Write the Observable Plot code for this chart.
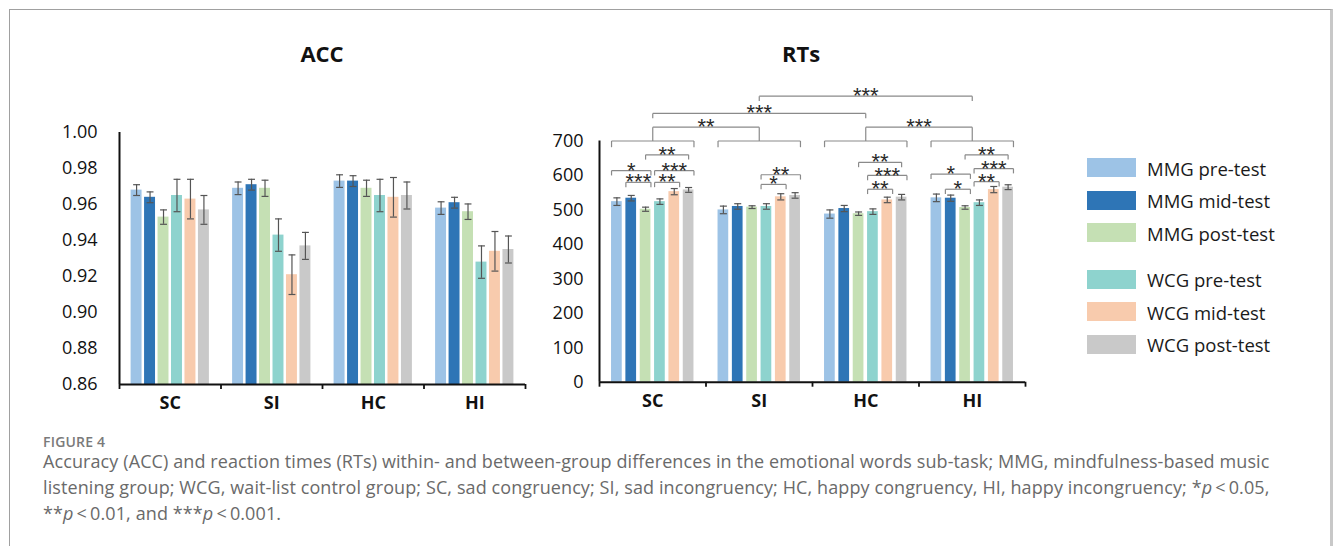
<!DOCTYPE html>
<html>
<head>
<meta charset="utf-8">
<script src="https://cdn.jsdelivr.net/npm/d3@7"></script>
<script src="https://cdn.jsdelivr.net/npm/@observablehq/plot@0.6"></script>
<style>
  body { margin: 0; background: #fff; font-family: "Open Sans", sans-serif; }
  #wrap { position: relative; width: 1335px; height: 546px; overflow: hidden; background: #fff; }
  #frame { position: absolute; left: 9px; top: 9px; width: 1320px; height: 620px;
           border-left: 1px solid #a0a0a0; border-top: 1px solid #a0a0a0; border-right: 3px solid #c8c8c8; }
  .ptitle { position: absolute; font-weight: 700; font-size: 22px; color: #111; transform: translate(-50%, -50%); white-space: nowrap; }
  .chart { position: absolute; }
  .chart svg { overflow: visible; }
  .sw { position: absolute; width: 49px; height: 19px; }
  .lt { position: absolute; font-size: 18.5px; color: #1a1a1a; white-space: nowrap; transform: translateY(-50%); }
  #fig { position: absolute; left: 43px; top: 432px; font-size: 14px; font-weight: 600; color: #7a7a7a; letter-spacing: 0.2px; }
  #cap { position: absolute; left: 43px; top: 448px; font-size: 18px; letter-spacing: 0.1px; line-height: 26px; color: #6a6a6a; white-space: nowrap; }
</style>
</head>
<body>
<div id="wrap">
  <div id="frame"></div>
  <div class="ptitle" style="left:322px; top:53px;">ACC</div>
  <div class="ptitle" style="left:801px; top:53px;">RTs</div>
  <div class="chart" id="acc" style="left:40px; top:30px;"></div>
  <div class="chart" id="rt" style="left:540px; top:30px;"></div>
  <div id="legend"></div>
  <div id="fig">FIGURE 4</div>
  <div id="cap">Accuracy (ACC) and reaction times (RTs) within- and between-group differences in the emotional words sub-task; MMG, mindfulness-based music<br>listening group; WCG, wait-list control group; SC, sad congruency; SI, sad incongruency; HC, happy congruency, HI, happy incongruency; *<i>p</i>&thinsp;&lt;&thinsp;0.05,<br>**<i>p</i>&thinsp;&lt;&thinsp;0.01, and ***<i>p</i>&thinsp;&lt;&thinsp;0.001.</div>
</div>
<script>
// ---------- data ----------
const categories = ["SC", "SI", "HC", "HI"];
const seriesNames = ["MMG pre-test", "MMG mid-test", "MMG post-test", "WCG pre-test", "WCG mid-test", "WCG post-test"];
const seriesColors = ["#9DC3E6", "#2E75B6", "#C5E0B4", "#8ED3CE", "#F8CBAD", "#C9C9C9"];

// ACC means and standard errors (per category, 6 series each)
const accSC = [0.968, 0.964, 0.953, 0.965, 0.963, 0.957];
const accSI = [0.969, 0.971, 0.969, 0.943, 0.921, 0.937];
const accHC = [0.973, 0.973, 0.969, 0.965, 0.964, 0.965];
const accHI = [0.958, 0.961, 0.956, 0.928, 0.934, 0.935];
const accErrSC = [0.003, 0.003, 0.004, 0.009, 0.011, 0.008];
const accErrSI = [0.0035, 0.003, 0.0045, 0.009, 0.011, 0.0075];
const accErrHC = [0.0035, 0.003, 0.0045, 0.009, 0.011, 0.0075];
const accErrHI = [0.0035, 0.003, 0.0043, 0.009, 0.011, 0.0075];

// RT means and standard errors
const rtSC = [524, 534, 502, 524, 553, 558];
const rtSI = [500, 510, 508, 510, 538, 542];
const rtHC = [488, 504, 489, 495, 529, 537];
const rtHI = [535, 534, 507, 521, 559, 566];
const rtErrSC = [11, 8, 6, 8, 9, 7];
const rtErrSI = [11, 8, 4, 8, 9, 8];
const rtErrHC = [12, 9, 5, 8, 8, 8];
const rtErrHI = [11, 9, 5, 8, 9, 7];

// tick values
const accTicks = [0.86, 0.88, 0.90, 0.92, 0.94, 0.96, 0.98, 1.00];
const rtTicks = [0, 100, 200, 300, 400, 500, 600, 700];

// significance comparisons (RTs): within a category between bars, level = stacking row
const withinComparisons = [
  { cat: 0, from: 1, to: 2, level: 1, label: "***" },
  { cat: 0, from: 3, to: 4, level: 1, label: "**" },
  { cat: 0, from: 0, to: 2, level: 2.7, label: "*" },
  { cat: 0, from: 3, to: 5, level: 2.7, label: "***" },
  { cat: 0, from: 2, to: 5, level: 5, label: "**", centers: true },
  { cat: 1, from: 3, to: 4, level: 0.7, label: "*" },
  { cat: 1, from: 3, to: 5, level: 2.1, label: "**" },
  { cat: 2, from: 3, to: 4, level: 0, label: "**" },
  { cat: 2, from: 3, to: 5, level: 2, label: "***" },
  { cat: 2, from: 2, to: 5, level: 3.9, label: "**", centers: true },
  { cat: 3, from: 1, to: 2, level: 0, label: "*" },
  { cat: 3, from: 3, to: 4, level: 1.1, label: "**" },
  { cat: 3, from: 0, to: 2, level: 2.2, label: "*" },
  { cat: 3, from: 3, to: 5, level: 3, label: "***" },
  { cat: 3, from: 2, to: 5, level: 5, label: "**", centers: true }
];
// between categories
const betweenComparisons = [
  { from: 0, to: 1, level: 9, label: "**", toGroup: true },
  { from: 2, to: 3, level: 9, label: "***", toGroup: true },
  { from: 0, to: 2, level: 11, label: "***" },
  { from: 1, to: 3, level: 13.5, label: "***" }
];
const groupLevel = 7;

// ---------- helpers ----------
function buildRows(means, errs, step) {
  const out = [];
  means.forEach((arr, c) => arr.forEach((v, s) => {
    out.push({ c, s, name: seriesNames[s], v, e: errs[c][s], x: c + (s - 2.5) * step });
  }));
  return out;
}

function barChart({ rows, yDomain, ticks, tickFormat, barW, capW, width, height, margins, tickPad, extra = [] }) {
  const y0 = yDomain[0];
  return Plot.plot({
    width, height,
    marginLeft: margins[0], marginRight: margins[1], marginTop: margins[2], marginBottom: margins[3],
    x: { type: "linear", domain: [-0.5, 3.5] },
    y: { domain: yDomain },
    color: { domain: seriesNames, range: seriesColors },
    style: { fontFamily: "'Open Sans', sans-serif", background: "transparent", overflow: "visible" },
    marks: [
      Plot.rectY(rows, { x1: d => d.x - barW / 2, x2: d => d.x + barW / 2, y1: y0, y2: "v", fill: "name" }),
      Plot.ruleX(rows, { x: "x", y1: d => d.v - d.e, y2: d => d.v + d.e, stroke: "#555", strokeWidth: 1.2 }),
      Plot.link(rows, { x1: d => d.x - capW, x2: d => d.x + capW, y1: d => d.v + d.e, y2: d => d.v + d.e, stroke: "#555", strokeWidth: 1.2 }),
      Plot.link(rows, { x1: d => d.x - capW, x2: d => d.x + capW, y1: d => d.v - d.e, y2: d => d.v - d.e, stroke: "#555", strokeWidth: 1.2 }),
      ...extra,
      Plot.axisY({ ticks, tickFormat, tickSize: 0, tickPadding: tickPad, fontSize: 18, fill: "#111", label: null }),
      Plot.axisX({ ticks: [0, 1, 2, 3], tickFormat: i => categories[i], tickSize: 0, tickPadding: 12, fontSize: 18, fontWeight: "bold", fill: "#111", label: null }),
      Plot.axisX({ ticks: [-0.5, 0.5, 1.5, 2.5, 3.5], tickFormat: () => "", tickSize: 5, stroke: "#111", strokeWidth: 1.8, label: null }),
      Plot.ruleY([y0], { stroke: "#111", strokeWidth: 2 }),
      Plot.ruleX([-0.5], { stroke: "#111", strokeWidth: 2 })
    ]
  });
}

// ---------- ACC ----------
const accStep = 0.1327, accBarW = 0.108;
const accRows = buildRows([accSC, accSI, accHC, accHI], [accErrSC, accErrSI, accErrHC, accErrHI], accStep);
document.getElementById("acc").append(barChart({
  rows: accRows, yDomain: [0.86, 1.00], ticks: accTicks, tickFormat: d3.format(".2f"),
  barW: accBarW, capW: 0.034, width: 500, height: 390, margins: [79, 15, 102, 36], tickPad: 22
}));

// ---------- RTs ----------
const rtStep = 0.1347, rtBarW = 0.1005;
const rtRows = buildRows([rtSC, rtSI, rtHC, rtHI], [rtErrSC, rtErrSI, rtErrHC, rtErrHI], rtStep);
const levelY = k => 560 + k * 20;
const drop = 14;
const barX = (c, s) => c + (s - 2.5) * rtStep;
const segs = [], labels = [];
function addBracket(x1, x2, y, label, d1 = drop, d2 = drop) {
  segs.push({ x1, x2, y1: y, y2: y });
  segs.push({ x1, x2: x1, y1: y, y2: y - d1 });
  segs.push({ x1: x2, x2, y1: y, y2: y - d2 });
  if (label) labels.push({ x: (x1 + x2) / 2, y, label });
}
withinComparisons.forEach(b => {
  const half = b.centers ? 0 : rtBarW / 2;
  addBracket(barX(b.cat, b.from) - half, barX(b.cat, b.to) + half, levelY(b.level), b.label);
});
categories.forEach((_, c) => addBracket(barX(c, 0) - rtBarW / 2, barX(c, 5) + rtBarW / 2, levelY(groupLevel), null, 18, 18));
betweenComparisons.forEach(b => {
  const y = levelY(b.level);
  const d = b.toGroup ? y - levelY(groupLevel) : drop;
  addBracket(b.from, b.to, y, b.label, d, d);
});
const bracketMarks = [
  Plot.link(segs, { x1: "x1", x2: "x2", y1: "y1", y2: "y2", stroke: "#8a8a8a", strokeWidth: 1.2 }),
  Plot.text(labels, { x: "x", y: "y", text: "label", fontSize: 22, fontFamily: "Liberation Sans", fill: "#2a2a2a", lineAnchor: "middle", dy: 0 })
];
document.getElementById("rt").append(barChart({
  rows: rtRows, yDomain: [0, 700], ticks: rtTicks, tickFormat: d3.format("d"),
  barW: rtBarW, capW: 0.033, width: 500, height: 390, margins: [59, 15, 110.5, 38.3], tickPad: 16,
  extra: bracketMarks
}));

// ---------- legend ----------
const legendY = [167.5, 200, 232.5, 279, 311.5, 344];
const legend = document.getElementById("legend");
seriesNames.forEach((n, i) => {
  const sw = document.createElement("div");
  sw.className = "sw";
  sw.style.left = "1087px";
  sw.style.top = (legendY[i] - 9.5) + "px";
  sw.style.background = seriesColors[i];
  legend.append(sw);
  const t = document.createElement("div");
  t.className = "lt";
  t.style.left = "1147px";
  t.style.top = legendY[i] + "px";
  t.textContent = n;
  legend.append(t);
});
</script>
</body>
</html>
